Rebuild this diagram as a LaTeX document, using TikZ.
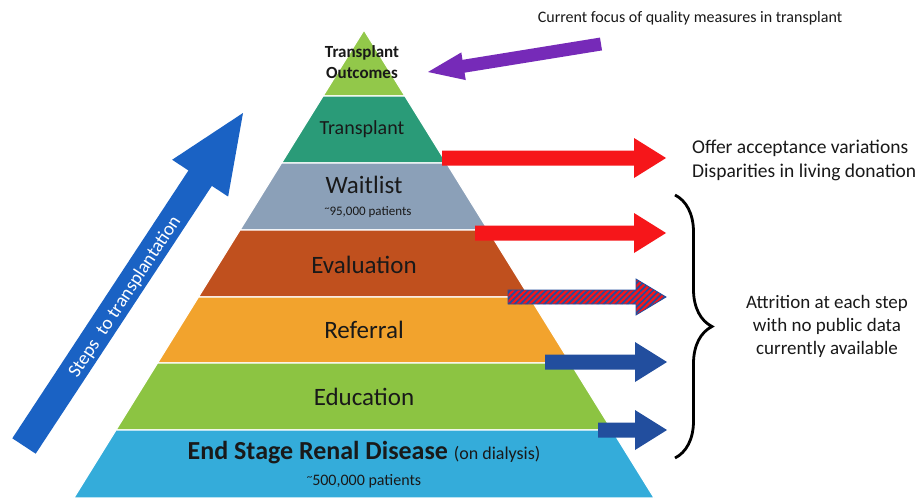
\documentclass[tikz,border=0pt]{standalone}
\usepackage{fontspec}
\setmainfont{Carlito}
\usetikzlibrary{calc,decorations.pathreplacing,patterns.meta}
\definecolor{cOut}{RGB}{146,200,74}
\definecolor{cTx}{RGB}{42,155,120}
\definecolor{cWait}{RGB}{139,160,184}
\definecolor{cEval}{RGB}{192,80,30}
\definecolor{cRef}{RGB}{242,163,45}
\definecolor{cEdu}{RGB}{140,196,66}
\definecolor{cEsrd}{RGB}{52,172,218}
\definecolor{cPurple}{RGB}{118,42,184}
\definecolor{cBigBlue}{RGB}{26,98,196}
\definecolor{cRed}{RGB}{246,22,26}
\definecolor{cDBlue}{RGB}{34,78,158}
\definecolor{cText}{RGB}{25,25,25}
\newcommand\fs[2]{\fontsize{#1}{#2}\selectfont}
% block arrow: #1 style, #2 from, #3 to, #4 shaft half width, #5 head half width, #6 head length
\newcommand\blockarrow[6]{%
  \coordinate (bah) at ($(#3)!#6!(#2)$);
  \path[#1] ($(#2)!#4!90:(#3)$) -- ($(bah)!#4!90:(#3)$) -- ($(bah)!#5!90:(#3)$) -- (#3)
    -- ($(bah)!#5!-90:(#3)$) -- ($(bah)!#4!-90:(#3)$) -- ($(#2)!#4!-90:(#3)$) -- cycle;}
\tikzset{
  layer/.style={draw=white, line width=1.2pt},
  lbl/.style={text=cText, inner sep=0pt, align=center},
  redarrow/.style={fill=cRed},
  bluearrow/.style={fill=cDBlue},
  stripearrow/.style={preaction={fill=cRed}, pattern={Lines[angle=45,distance=4.2pt,line width=1.7pt]}, pattern color=cDBlue, draw=cDBlue, line width=0.8pt},
}
\begin{document}
\begin{tikzpicture}[x=1pt,y=-1pt]
\useasboundingbox (0,0) rectangle (922,498);
\fill[white] (0,0) rectangle (922,498);
% pyramid layers
\fill[cOut, layer] (364,30) -- (404.92,96) -- (323.08,96) -- cycle;
\fill[cTx, layer] (323.08,96) -- (404.92,96) -- (446.46,163) -- (281.54,163) -- cycle;
\fill[cWait, layer] (281.54,163) -- (446.46,163) -- (488,230) -- (240,230) -- cycle;
\fill[cEval, layer] (240,230) -- (488,230) -- (529.54,297) -- (198.46,297) -- cycle;
\fill[cRef, layer] (198.46,297) -- (529.54,297) -- (570.46,363) -- (157.54,363) -- cycle;
\fill[cEdu, layer] (157.54,363) -- (570.46,363) -- (612,430) -- (116,430) -- cycle;
\fill[cEsrd, layer] (116,430) -- (612,430) -- (654.16,498) -- (73.84,498) -- cycle;
% layer texts
\node[lbl, font=\fs{17}{21}\bfseries] (outc) at (362,62) {Transplant\\Outcomes};
\node[lbl, font=\fs{20}{24}] (txp) at (362,129) {Transplant};
\node[lbl, font=\fs{25}{30}] (wait) at (364,185) {Waitlist};
\node[lbl, font=\fs{13}{15}] (waitn) at (368,212) {\raisebox{.3em}{\fs{10}{10}\textasciitilde}95,000 patients};
\node[lbl, font=\fs{25}{30}] (eval) at (364,265) {Evaluation};
\node[lbl, font=\fs{25}{30}] (ref) at (364,330) {Referral};
\node[lbl, font=\fs{25}{30}] (edu) at (364,397) {Education};
\node[lbl, font=\fs{26}{30}] (esrd) at (364,453) {{\bfseries End Stage Renal Disease} {\fs{18}{20}(on dialysis)}};
\node[lbl, font=\fs{16}{18}] (esrdn) at (364,481) {\raisebox{.3em}{\fs{11}{11}\textasciitilde}500,000 patients};
% side texts
\node[lbl, font=\fs{16}{18}] (focus) at (690,18) {Current focus of quality measures in transplant};
\node[lbl, font=\fs{19.5}{24}, anchor=west, align=left] (offer) at (692,160) {Offer acceptance variations\\Disparities in living donation};
\node[lbl, font=\fs{19}{23}] (attr) at (827,326) {Attrition at each step\\with no public data\\currently available};
% purple arrow
\coordinate (pT) at (601,44);
\coordinate (pH) at (428,72);
\blockarrow{fill=cPurple}{pT}{pH}{6.5pt}{14pt}{36pt}
% big blue arrow
\coordinate (bT) at (24,446);
\coordinate (bH) at (243,113);
\blockarrow{fill=cBigBlue}{bT}{bH}{14pt}{33.5pt}{78pt}
\node[font=\fs{19}{20}, text=white, rotate=56.7, inner sep=0pt] (steps) at (125,297) {Steps\hspace{.25em} to transplantation};
% right arrows
\coordinate (r1s) at (442,158); \coordinate (r1e) at (666,158);
\coordinate (r2s) at (475,233); \coordinate (r2e) at (666,233);
\coordinate (r3s) at (508,297); \coordinate (r3e) at (666,297);
\coordinate (r4s) at (545,362); \coordinate (r4e) at (667,362);
\coordinate (r5s) at (598,430); \coordinate (r5e) at (667,430);
\blockarrow{redarrow}{r1s}{r1e}{7.5pt}{20pt}{32pt}
\blockarrow{redarrow}{r2s}{r2e}{7.5pt}{20pt}{32pt}
\blockarrow{stripearrow}{r3s}{r3e}{7pt}{18pt}{30pt}
\blockarrow{bluearrow}{r4s}{r4e}{7.5pt}{20pt}{32pt}
\blockarrow{bluearrow}{r5s}{r5e}{7.5pt}{20pt}{32pt}
% brace
\coordinate (brT) at (675,195);
\coordinate (brB) at (675,458);
\draw[line width=2.8pt, decorate, decoration={brace, amplitude=37pt, aspect=0.5}] (brT) -- (brB);
\end{tikzpicture}
\end{document}
